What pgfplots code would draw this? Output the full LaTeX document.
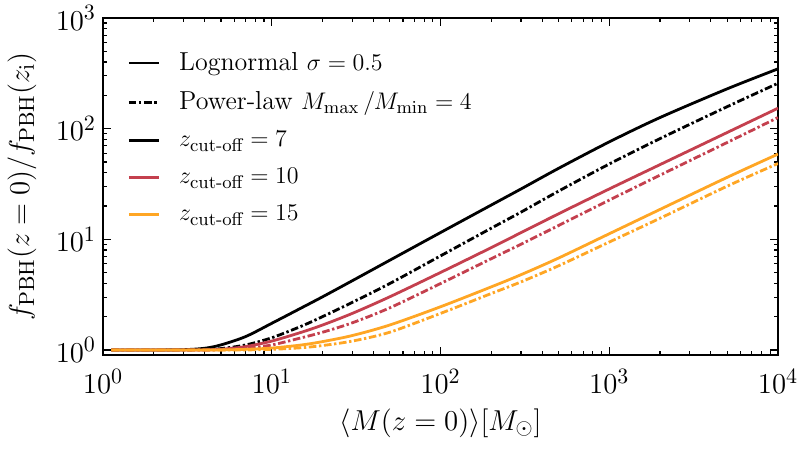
\documentclass[border=0pt]{standalone}
\usepackage{amsmath}
\usepackage{pgfplots}
\usepackage{pgfplotstable}
\pgfplotsset{compat=1.18}
\definecolor{cred}{RGB}{196,64,78}
\definecolor{corange}{RGB}{255,166,36}
\pgfplotstableread{
x      lnA    plA    lnB    plB    lnC    plC
1.12   1      1      1      1      1      1
2      1      1      1      1      1      1
3      1.005  1      1      1      1      1
4      1.035  1.007  1      1      1      1
5      1.11   1.028  1.012  1.005  1      1
7      1.32   1.109  1.072  1.035  1.012  1
10     1.74   1.288  1.202  1.109  1.04   1.012
15     2.40   1.64   1.445  1.288  1.109  1.047
20     3.02   2.0    1.679  1.445  1.189  1.096
30     4.22   2.69   2.138  1.758  1.349  1.202
50     6.46   3.98   3.02   2.40   1.679  1.445
100    11.5   7.08   5.01   3.98   2.455  2.138
200    20.4   12.6   8.41   6.68   3.715  3.236
300    28.5   17.6   11.48  9.02   4.786  4.121
500    43.7   27.2   16.98  13.3   6.76   5.754
1000   75.9   47.9   28.5   22.6   11.22  9.44
2000   126    81.3   47.3   38.0   18.62  15.49
5000   229    158    92.3   75.0   36.3   30.2
10000  347    257    153    126    58.9   48.4
}\data
\tikzset{dd/.style={dash pattern=on 3.8pt off 1.3pt on 1.2pt off 1.3pt}}
\begin{document}
\begin{tikzpicture}
\useasboundingbox (-51.5pt,-49.5pt) rectangle (348.5pt,177.5pt);
\begin{axis}[
  at={(0,0)}, anchor=south west,
  scale only axis, width=337.5pt, height=168.5pt,
  xmode=log, ymode=log,
  xmin=1, xmax=10000, ymin=0.9, ymax=1000,
  tick align=inside,
  major tick length=4pt, minor tick length=2pt,
  every tick/.style={black, line width=0.6pt},
  axis line style={line width=0.8pt},
  ticklabel style={font=\fontsize{15}{18}\selectfont},
  xticklabel style={yshift=-3.5pt},
  label style={font=\fontsize{15.5}{18}\selectfont},
  xlabel={$\langle M(z=0)\rangle[M_\odot]$},
  ylabel={$f_{\mathrm{PBH}}(z=0)/f_{\mathrm{PBH}}(z_{\mathrm{i}})$},
  ylabel style={at={(axis description cs:-0.12,0.5)}, anchor=center},
  xlabel style={anchor=center, yshift=-11.5pt},
  legend style={at={(rel axis cs:0,1)}, anchor=north west, draw=none, fill=none,
     font=\fontsize{13}{15}\selectfont, row sep=5.2pt, xshift=9pt, yshift=-13pt},
  legend image code/.code={\draw[#1] (0pt,0pt) -- (15pt,0pt); \path (22.5pt,0pt);},
  legend cell align=left,
  every axis plot/.append style={line width=1.4pt},
]
\addplot[forget plot, black, smooth] table[x=x, y=lnA] {\data};
\addplot[forget plot, black, dd, smooth] table[x=x, y=plA] {\data};
\addplot[forget plot, cred, smooth] table[x=x, y=lnB] {\data};
\addplot[forget plot, cred, dd, smooth] table[x=x, y=plB] {\data};
\addplot[forget plot, corange, smooth] table[x=x, y=lnC] {\data};
\addplot[forget plot, corange, dd, smooth] table[x=x, y=plC] {\data};
\addlegendimage{black, line width=1.4pt}
\addlegendentry{Lognormal $\sigma=0.5$}
\addlegendimage{black, dd, line width=1.4pt}
\addlegendentry{Power-law $M_{\max}\,/M_{\min}=4$}
\addlegendimage{black, line width=1.4pt}
\addlegendentry{$z_{\text{cut-off}}=7$}
\addlegendimage{cred, line width=1.4pt}
\addlegendentry{$z_{\text{cut-off}}=10$}
\addlegendimage{corange, line width=1.4pt}
\addlegendentry{$z_{\text{cut-off}}=15$}
\end{axis}
\end{tikzpicture}
\end{document}
